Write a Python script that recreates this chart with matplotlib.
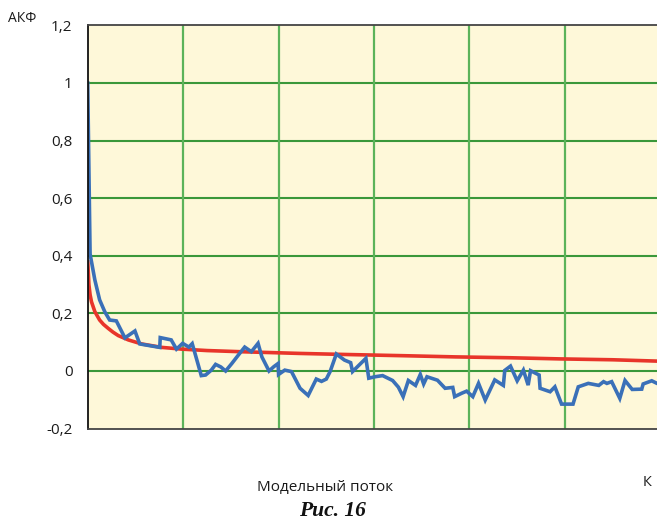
import matplotlib
matplotlib.use("Agg")
import matplotlib.pyplot as plt

# Blue: sample ACF (knots)
acf_lag = [0.0, 0.5, 1.5, 2.5, 3.6, 4.6, 6.0, 7.8, 9.9, 10.9, 15.1, 15.2, 17.5, 18.6,
           19.9, 21.2, 21.9, 22.4, 23.8, 24.7, 25.9, 26.8, 27.9, 28.9, 30.2, 31.6,
           32.9, 34.3, 35.7, 36.5, 38.0, 39.0, 39.9, 40.0, 41.3, 42.7, 44.5, 46.2,
           47.9, 49.0, 50.0, 50.8, 52.1, 53.8, 55.1, 55.5, 56.9, 58.3, 58.9, 60.2,
           61.8, 63.9, 65.1, 66.1, 67.2, 68.7, 69.7, 70.4, 71.1, 73.3, 74.9, 76.5,
           76.9, 78.4, 79.4, 80.7, 81.9, 83.3, 85.3, 87.1, 87.4, 88.6, 90.0, 91.3,
           92.3, 92.8, 94.6, 94.8, 96.9, 97.9, 99.3, 101.7, 102.8, 104.9, 107.1,
           108.1, 108.8, 109.8, 111.5, 112.6, 114.1, 116.1, 116.4, 118.2, 119.3, 120.0]
acf_val = [1.0, 0.406, 0.316, 0.247, 0.205, 0.177, 0.174, 0.115, 0.139, 0.094, 0.082,
           0.116, 0.108, 0.076, 0.096, 0.083, 0.095, 0.066, -0.016, -0.014, 0.003,
           0.023, 0.014, 0.0, 0.026, 0.056, 0.083, 0.067, 0.096, 0.049, 0.0, 0.015,
           0.026, -0.012, 0.003, -0.002, -0.06, -0.085, -0.028, -0.036, -0.028,
           -0.002, 0.059, 0.038, 0.029, -0.002, 0.021, 0.044, -0.025, -0.02, -0.016,
           -0.033, -0.056, -0.089, -0.033, -0.05, -0.012, -0.045, -0.02, -0.032,
           -0.06, -0.057, -0.089, -0.077, -0.07, -0.089, -0.043, -0.101, -0.031,
           -0.05, 0.002, 0.017, -0.034, 0.003, -0.049, 0.001, -0.014, -0.06, -0.072,
           -0.055, -0.115, -0.115, -0.055, -0.043, -0.05, -0.037, -0.043, -0.037,
           -0.095, -0.033, -0.064, -0.063, -0.045, -0.034, -0.043, -0.045]

# Red: model ACF
model_lag = [0.0, 0.25, 0.5, 0.8, 1.5, 2.5, 3.3, 4.3, 5.3, 6.4, 8.5, 11.3, 15.5,
             19.7, 25.0, 32.0, 44.5, 55.0, 66.5, 77.0, 88.5, 99.0, 110.0, 120.0]
model_val = [0.385, 0.30, 0.265, 0.24, 0.206, 0.177, 0.162, 0.148, 0.135, 0.123,
             0.108, 0.094, 0.082, 0.076, 0.071, 0.067, 0.061, 0.057, 0.053, 0.049,
             0.046, 0.042, 0.039, 0.034]

y_ticks = [-0.2, 0, 0.2, 0.4, 0.6, 0.8, 1.0, 1.2]
y_labels = ["-0,2", "0", "0,2", "0,4", "0,6", "0,8", "1", "1,2"]
x_grid = [20, 40, 60, 80, 100]

font = ["Open Sans", "DejaVu Sans"]

fig = plt.figure(figsize=(6.57, 5.24), dpi=100)
ax = fig.add_axes([87.7 / 657, 1 - 428.6 / 524, 1 - 87.7 / 657, (428.6 - 25.4) / 524])
ax.set_facecolor("#fef8d9")

ax.set_xlim(0, 119.3)
ax.set_ylim(-0.2, 1.2)
ax.set_yticks(y_ticks)
ax.set_yticklabels(y_labels, family=font, fontsize=11, color="#1a1a1a")
ax.set_xticks(x_grid)
ax.set_xticklabels([])
ax.tick_params(axis="both", length=0, pad=11)

for yv in y_ticks[1:-1]:
    ax.axhline(yv, color="#3a983a", lw=1.5, zorder=1)
for xv in x_grid:
    ax.axvline(xv, color="#5cb35a", lw=1.6, zorder=1)

ax.plot(model_lag, model_val, color="#e8352a", lw=2.6, zorder=3, solid_capstyle="butt")
ax.plot(acf_lag, acf_val, color="#3a70b8", lw=2.6, zorder=4, solid_joinstyle="miter")

ax.spines["right"].set_visible(False)
ax.spines["left"].set_color("#111111")
ax.spines["left"].set_linewidth(1.3)
ax.spines["top"].set_color("#444444")
ax.spines["top"].set_linewidth(1.3)
ax.spines["bottom"].set_color("#444444")
ax.spines["bottom"].set_linewidth(1.3)
for s in ax.spines.values():
    s.set_zorder(5)

fig.text(22 / 657, 1 - 18 / 524, "АКФ", family=font, fontsize=10,
         ha="center", va="center", color="#1a1a1a")
fig.text(325 / 657, 1 - 487 / 524, "Модельный поток", family=font, fontsize=11,
         ha="center", va="center", color="#1a1a1a")
fig.text(647 / 657, 1 - 483 / 524, "К", family=font, fontsize=10.5,
         ha="center", va="center", color="#1a1a1a")
fig.text(332 / 657, 1 - 511 / 524, "Рис. 16", family=["Liberation Serif", "DejaVu Serif"],
         fontsize=15.5, fontweight="bold", fontstyle="italic",
         ha="center", va="center", color="#111111")

fig.savefig("out.png", dpi=100)
